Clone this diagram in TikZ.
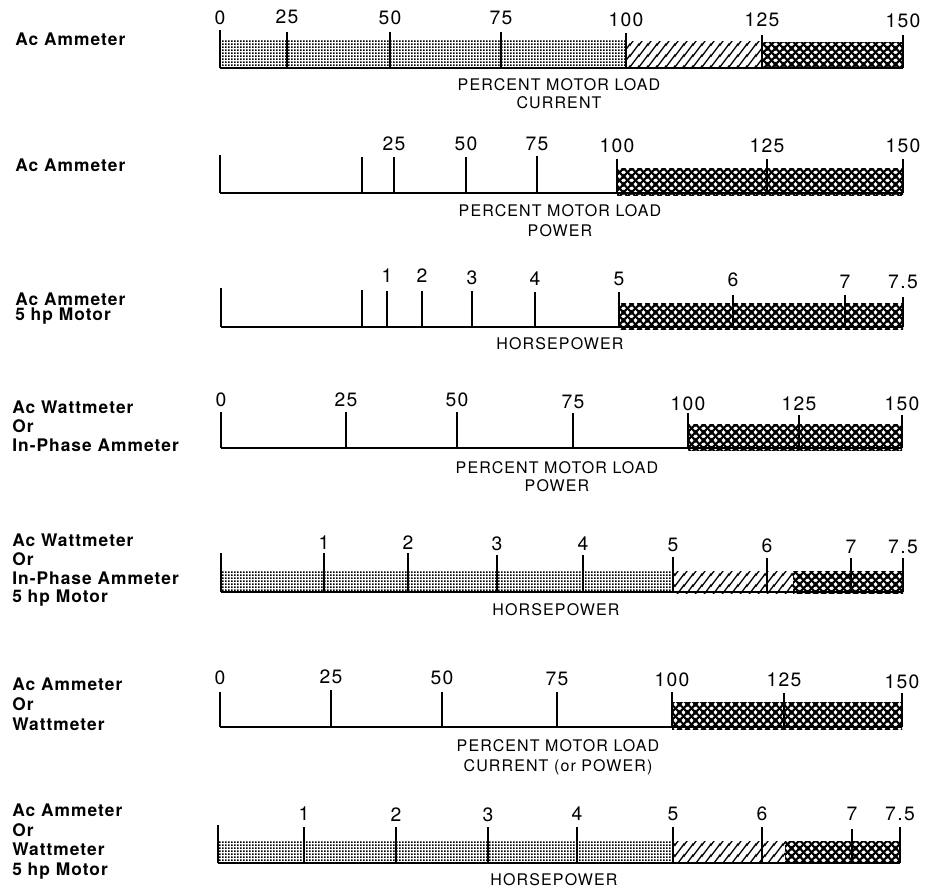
\documentclass[tikz,border=0pt]{standalone}
\usepackage{fontspec}
\usetikzlibrary{patterns,patterns.meta}
\newfontfamily\numf[LetterSpace=7]{TeX Gyre Heros}
\newfontfamily\capf[LetterSpace=7]{TeX Gyre Heros}
\newfontfamily\labf[LetterSpace=6]{TeX Gyre Heros}

\tikzdeclarepattern{
  name=mydots,
  bottom left={(0pt,0pt)}, top right={(2.25pt,2.25pt)},
  tile size={(2.25pt,2.25pt)},
  code={\fill (0pt,0pt) rectangle (1.55pt,1.55pt);}
}
\tikzdeclarepattern{
  name=myhatch,
  bottom left={(0pt,0pt)}, top right={(6.75pt,8.1pt)},
  tile size={(6.75pt,8.1pt)},
  code={
    \draw[line width=1.05pt] (-13.5pt,-8.1pt) -- (6.75pt,16.2pt);
    \draw[line width=1.05pt] (-6.75pt,-8.1pt) -- (13.5pt,16.2pt);
    \draw[line width=1.05pt] (0pt,-8.1pt) -- (20.25pt,16.2pt);
  }
}
\tikzdeclarepattern{
  name=myxhatch,
  bottom left={(0pt,0pt)}, top right={(6pt,6pt)},
  tile size={(6pt,6pt)},
  code={
    \draw[line width=1.75pt] (-6pt,-12pt) -- (12pt,6pt);
    \draw[line width=1.75pt] (-6pt,-6pt) -- (12pt,12pt);
    \draw[line width=1.75pt] (-6pt,0pt) -- (12pt,18pt);
    \draw[line width=1.75pt] (-6pt,6pt) -- (12pt,-12pt);
    \draw[line width=1.75pt] (-6pt,12pt) -- (12pt,-6pt);
    \draw[line width=1.75pt] (-6pt,18pt) -- (12pt,0pt);
  }
}

\tikzset{
  tk/.style={line width=0.85pt},
  tkb/.style={line width=1.5pt},
  baseln/.style={line width=1.1pt},
  num/.style={font=\numf\fontsize{14.5}{16}\selectfont, anchor=base, inner sep=0pt},
  capt/.style={font=\capf\fontsize{12}{13}\selectfont, anchor=base, inner sep=0pt},
  lab/.style={font=\labf\bfseries\fontsize{13}{14}\selectfont, anchor=base west, inner sep=0pt},
  dots/.style={pattern=mydots},
  hatch/.style={pattern=myhatch},
  xhatch/.style={pattern=myxhatch}
}

\begin{document}
\begin{tikzpicture}[x=0.75pt,y=-0.75pt]
\useasboundingbox[fill=white] (0,0) rectangle (931,888);

% ---------- Row 1 ----------
\node[lab] (l1) at (15,45.7) {Ac Ammeter};
\fill[dots] (220,40) rectangle (626,68);
\fill[hatch] (626,42) rectangle (762,68);
\fill[xhatch] (762,43) rectangle (903,68);
\draw[baseln] (220,68) -- (903,68);
\foreach \x/\t/\yb/\yt [count=\i] in {220/0/25/30, 390/50/25/32, 626/100/27/33, 762/125/27/35, 903/150/28/35}{
  \draw[tk] (\x,\yt) -- (\x,68);
  \node[num] (a\i) at (\x,\yb) {\t};
}
\foreach \x/\t/\yb/\yt [count=\i] in {287/25/24/32, 501/75/25/32}{
  \draw[tkb] (\x,\yt) -- (\x,68);
  \node[num] (ab\i) at (\x,\yb) {\t};
}
\node[capt] (c1a) at (559,90.7) {PERCENT MOTOR LOAD};
\node[capt] (c1b) at (559,109) {CURRENT};

% ---------- Row 2 ----------
\node[lab] (l2) at (15,171.7) {Ac Ammeter};
\fill[xhatch] (617,169) rectangle (903,195);
\draw[baseln] (220,193) -- (903,193);
\draw[tk] (220,155) -- (220,193);
\draw[tk] (362,157) -- (362,193);
\foreach \x/\t/\yb/\yt [count=\i] in {394/25/150.7/157, 466/50/151/157, 537/75/150.7/156, 617/100/153/159, 767/125/153/159, 903/150/153/159}{
  \draw[tk] (\x,\yt) -- (\x,193);
  \node[num] (b\i) at (\x,\yb) {\t};
}
\node[capt] (c2a) at (560,216.7) {PERCENT MOTOR LOAD};
\node[capt] (c2b) at (560,236.7) {POWER};

% ---------- Row 3 ----------
\node[lab] (l3a) at (15,305) {Ac Ammeter};
\node[lab] (l3b) at (15,320.7) {5 hp Motor};
\fill[xhatch] (619,303) rectangle (903,329);
\draw[baseln] (221,327) -- (903,327);
\draw[tk] (221,288) -- (221,327);
\draw[tk] (362,290) -- (362,327);
\foreach \x/\t/\yb/\yt [count=\i] in {387/1/282/291, 422/2/282/291, 472/3/284/291, 535/4/285/292, 619/5/285/292, 733/6/286.7/295, 845/7/288/295, 903/7.5/288/297}{
  \draw[tk] (\x,\yt) -- (\x,327);
  \node[num] (h\i) at (\x,\yb) {\t};
}
\node[capt] (c3) at (560,349) {HORSEPOWER};

% ---------- Row 4 ----------
\node[lab] (l4a) at (12,413) {Ac Wattmeter};
\node[lab] (l4b) at (12,432.7) {Or};
\node[lab] (l4c) at (12,451.7) {In-Phase Ammeter};
\fill[xhatch] (688,424) rectangle (902,450);
\draw[baseln] (221,448) -- (902,448);
\foreach \x/\t/\yb/\yt [count=\i] in {221/0/406/412, 346/25/406/412, 457/50/406/412, 573/75/408/413, 688/100/410/413, 799/125/410/415, 902/150/410/415}{
  \draw[tk] (\x,\yt) -- (\x,448);
  \node[num] (d\i) at (\x,\yb) {\t};
}
\node[capt] (c4a) at (557,473) {PERCENT MOTOR LOAD};
\node[capt] (c4b) at (557,491.7) {POWER};

% ---------- Row 5 ----------
\node[lab] (l5a) at (12,546) {Ac Wattmeter};
\node[lab] (l5b) at (12,565) {Or};
\node[lab] (l5c) at (12,584) {In-Phase Ammeter};
\node[lab] (l5d) at (12,602.7) {5 hp Motor};
\fill[dots] (221,570) rectangle (673,592);
\fill[hatch] (673,571) rectangle (793,593);
\fill[xhatch] (793,571) rectangle (903,593);
\draw[baseln] (221,592) -- (903,592);
\draw[tk] (221,553) -- (221,592);
\foreach \x/\t/\yb/\yt [count=\i] in {324/1/549/553, 408/2/549/553, 497/3/550/555, 583/4/550/555, 673/5/551.7/557, 767/6/552/558, 851/7/553/558, 903/7.5/553/558}{
  \draw[tk] (\x,\yt) -- (\x,592);
  \node[num] (e\i) at (\x,\yb) {\t};
}
\node[capt] (c5) at (556,615) {HORSEPOWER};

% ---------- Row 6 ----------
\node[lab] (l6a) at (12,690.7) {Ac Ammeter};
\node[lab] (l6b) at (12,710.7) {Or};
\node[lab] (l6c) at (12,730) {Wattmeter};
\fill[xhatch] (672,702) rectangle (902,729);
\draw[baseln] (220,727) -- (902,727);
\foreach \x/\t/\yb/\yt [count=\i] in {220/0/684/692, 331/25/683/690, 442/50/684/692, 557/75/685/692, 672/100/686/692, 784/125/686/693, 902/150/688/693}{
  \draw[tk] (\x,\yt) -- (\x,727);
  \node[num] (f\i) at (\x,\yb) {\t};
}
\node[capt] (c6a) at (558,751.7) {PERCENT MOTOR LOAD};
\node[capt] (c6b) at (558,771.7) {CURRENT (or POWER)};

% ---------- Row 7 ----------
\node[lab] (l7a) at (12,816.7) {Ac Ammeter};
\node[lab] (l7b) at (12,836.7) {Or};
\node[lab] (l7c) at (12,855.7) {Wattmeter};
\node[lab] (l7d) at (12,875) {5 hp Motor};
\fill[dots] (218,840) rectangle (673,863);
\fill[hatch] (673,841) rectangle (785,863);
\fill[xhatch] (785,841) rectangle (900,863);
\draw[baseln] (218,863) -- (900,863);
\draw[tk] (218,825) -- (218,863);
\foreach \x/\t/\yb/\yt [count=\i] in {304/1/820.7/827, 396/2/821/827, 488/3/821.7/827, 577/4/820/827, 673/5/820/827, 762/6/820/827, 852/7/820/829, 900/7.5/820/827}{
  \draw[tk] (\x,\yt) -- (\x,863);
  \node[num] (g\i) at (\x,\yb) {\t};
}
\node[capt] (c7) at (554,885) {HORSEPOWER};
\end{tikzpicture}
\end{document}
